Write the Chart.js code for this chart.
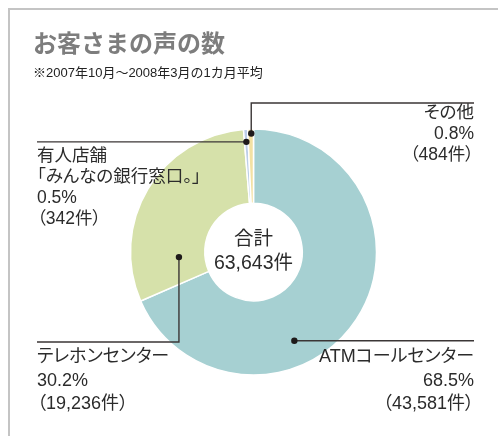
<!DOCTYPE html>
<html lang="ja">
<head>
<meta charset="utf-8">
<script src="https://cdn.jsdelivr.net/npm/chart.js@4.4.1/dist/chart.umd.min.js"></script>
<style>
  html, body { margin: 0; padding: 0; background: #fff; }
  #wrap { position: relative; width: 498px; height: 436px; overflow: hidden;
          font-family: "Liberation Sans", "Noto Sans CJK JP", sans-serif; color: #2b2b2b; }
  #c { position: absolute; left: 0; top: 0; }
  .frameTop { position: absolute; left: 9px; top: 8px; width: 489px; height: 2px; background: #c4c4c4; }
  .frameLeft { position: absolute; left: 8px; top: 8px; width: 2px; height: 428px; background: #c4c4c4; }
  .t { position: absolute; white-space: nowrap; font-feature-settings: "palt"; }
  #title { left: 33px; top: 29px; font-size: 24px; line-height: 30px; font-weight: bold; color: #7d7d7d; font-feature-settings: normal; }
  #sub { left: 33px; top: 65px; font-size: 13px; line-height: 16px; color: #222; font-feature-settings: normal; }
  .lblS { font-size: 17.5px; line-height: 21px; }
  .lblL { font-size: 18px; line-height: 23.5px; }
  .r { text-align: right; }
  #center { left: 183px; width: 141px; top: 226px; font-size: 19.5px; line-height: 24px; text-align: center; }
</style>
</head>
<body>
<div id="wrap">
  <div class="frameTop"></div>
  <div class="frameLeft"></div>
  <canvas id="c" width="498" height="436"></canvas>
  <div id="title" class="t"></div>
  <div id="sub" class="t"></div>
  <div id="center" class="t"></div>
  <div id="lbl0" class="t lblL r" style="right:24px; top:345px;"></div>
  <div id="lbl1" class="t lblL" style="left:37px; top:345px;"></div>
  <div id="lbl2" class="t lblS" style="left:37px; top:145px;"></div>
  <div id="lbl3" class="t lblS r" style="right:24px; top:102px;"></div>
</div>
<script>
// ---- data ----
const titleText = "お客さまの声の数";
const subtitleText = "※2007年10月～2008年3月の1カ月平均";
const categories = ["ATMコールセンター", "テレホンセンター", "有人店舗\n「みんなの銀行窓口。」", "その他"];
const counts = [43581, 19236, 342, 484];
const percents = ["68.5%", "30.2%", "0.5%", "0.8%"];
const totalLabel = "合計";
const totalCount = "63,643件";
const colors = ["#a6d0d2", "#d6e1aa", "#bdcee9", "#f3e1a3"];

// ---- labels (real text) ----
document.getElementById('title').textContent = titleText;
document.getElementById('sub').textContent = subtitleText;
document.getElementById('center').innerHTML = totalLabel + "<br>" + totalCount;
const fmt = n => n.toLocaleString('en-US');
categories.forEach((c, i) => {
  const lines = c.split("\n").concat([percents[i], "（" + fmt(counts[i]) + "件）"]);
  const el = document.getElementById('lbl' + i);
  el.innerHTML = lines.map(s => s.replace(/&/g, '&amp;').replace(/</g, '&lt;')).join("<br>");
});

// ---- leader lines: anchor inside slice (angle fraction, ring fraction) + route ----
const leaders = [
  { af: 0.63, rf: 0.66, route: [["h", 474]] },
  { af: 0.18, rf: 0.35, route: [["v", 342], ["h", 37]] },
  { af: 0.5,  rf: 0.83, route: [["h", 37]] },
  { af: 0.6,  rf: 0.94, route: [["v", 103], ["h", 474]] }
];

const leaderPlugin = {
  id: 'leaders',
  afterDatasetsDraw(chart) {
    const ctx = chart.ctx;
    const meta = chart.getDatasetMeta(0);
    meta.data.forEach((arc, i) => {
      const L = leaders[i];
      const p = arc.getProps(['x', 'y', 'startAngle', 'endAngle', 'innerRadius', 'outerRadius'], true);
      const a = p.startAngle + (p.endAngle - p.startAngle) * L.af;
      const r = p.innerRadius + (p.outerRadius - p.innerRadius) * L.rf;
      let x = p.x + r * Math.cos(a), y = p.y + r * Math.sin(a);
      ctx.save();
      ctx.strokeStyle = "#3b3636";
      ctx.lineWidth = 1.4;
      ctx.beginPath();
      ctx.moveTo(x, y);
      L.route.forEach(([d, v]) => {
        if (d === 'h') x = v; else y = v;
        ctx.lineTo(x, y);
      });
      ctx.stroke();
      ctx.fillStyle = "#1e1a1a";
      ctx.beginPath();
      ctx.arc(p.x + r * Math.cos(a), p.y + r * Math.sin(a), 3.2, 0, Math.PI * 2);
      ctx.fill();
      ctx.restore();
    });
  }
};

new Chart(document.getElementById('c'), {
  type: 'doughnut',
  data: {
    labels: categories,
    datasets: [{
      data: counts,
      backgroundColor: colors,
      borderColor: "#ffffff",
      borderWidth: 1.5
    }]
  },
  options: {
    responsive: false,
    animation: false,
    radius: 123,
    cutout: 52,
    layout: { padding: { left: 100, right: 91, top: 120, bottom: 52 } },
    plugins: { legend: { display: false }, tooltip: { enabled: false }, title: { display: false } }
  },
  plugins: [leaderPlugin]
});
</script>
</body>
</html>
